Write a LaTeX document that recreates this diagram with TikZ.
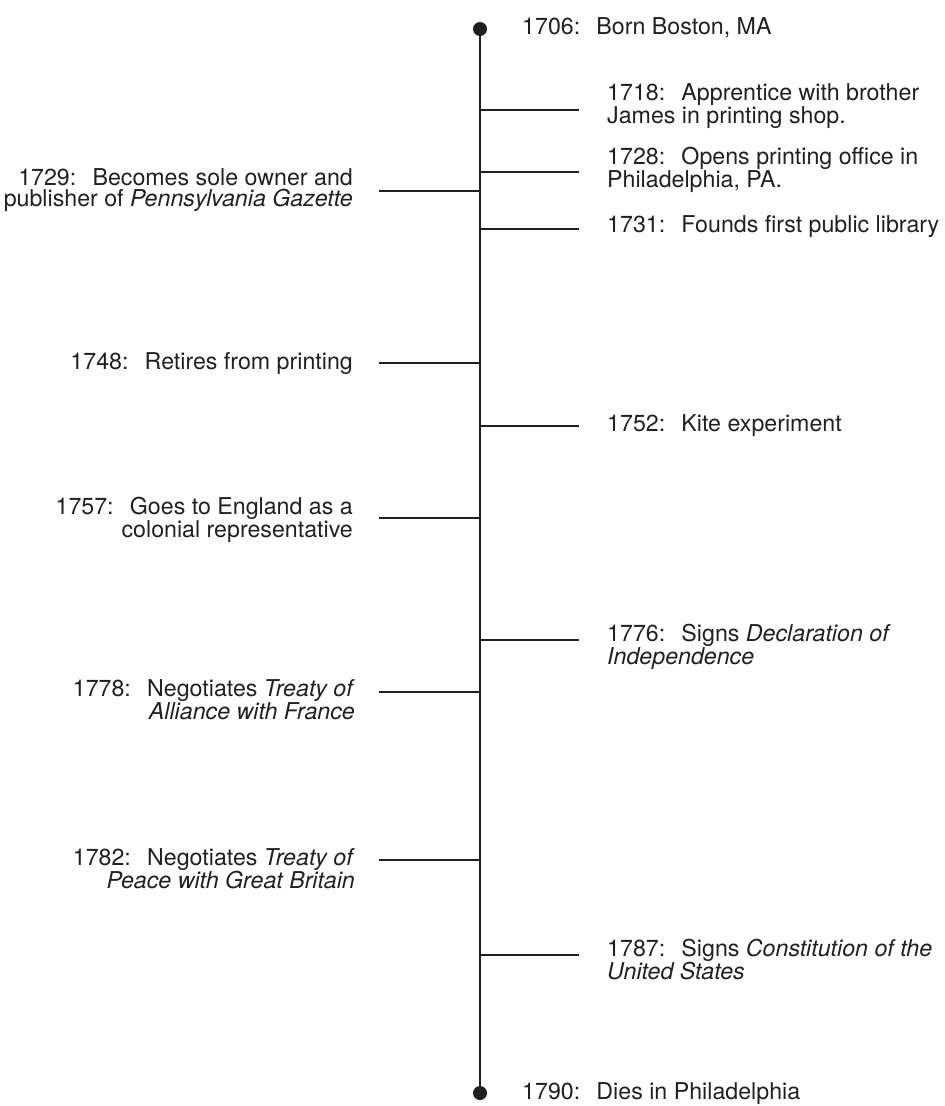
\documentclass[tikz,border=0pt]{standalone}
\usepackage{fontspec}
\setmainfont{TeX Gyre Heros}
\definecolor{ink}{HTML}{231F20}
\newcommand{\evgap}{\hspace{0.7em}}
\begin{document}
\begin{tikzpicture}[x=1pt,y=-1pt,
  evt/.style={font=\fontsize{23.2}{21.7}\selectfont, inner sep=0pt, text=ink},
  rt/.style={evt, anchor=base west, align=left},
  lt/.style={evt, anchor=base east, align=right},
  enddot/.style={circle, fill=ink, inner sep=0pt, minimum size=14pt},
  axis/.style={draw=ink, line width=2.8pt},
  tickline/.style={draw=ink, line width=2.8pt}]
\useasboundingbox (0,0) rectangle (945,1106);
% axis end points
\coordinate (top) at (480,29);
\coordinate (bot) at (480,1093);
\draw[axis] (top) -- (bot);
\node[enddot] (topdot) at (top) {};
\node[enddot] (botdot) at (bot) {};
% right ticks
\foreach \n/\y in {a1718/110, a1728/172, a1731/229, a1752/426, a1776/640, a1787/955}{
  \coordinate (\n) at (480,\y);
  \coordinate (\n e) at (579,\y);
  \draw[tickline] (\n) -- (\n e);
}
% left ticks
\foreach \n/\y in {a1729/191, a1748/363, a1757/518, a1778/692, a1782/860}{
  \coordinate (\n) at (480,\y);
  \coordinate (\n e) at (379,\y);
  \draw[tickline] (\n) -- (\n e);
}
% right texts (y = baseline of last line)
\node[rt] (t1706) at (522,34) {1706:\evgap Born Boston, MA};
\node[rt] (t1718) at (607,123.7) {1718:\evgap Apprentice with brother\\James in printing shop.};
\node[rt] (t1728) at (607,187.7) {1728:\evgap Opens printing office in\\Philadelphia, PA.};
\node[rt] (t1731) at (607,232) {1731:\evgap Founds first public library};
\node[rt] (t1752) at (607,431) {1752:\evgap Kite experiment};
\node[rt] (t1776) at (607,664.7) {1776:\evgap Signs \textit{Declaration of}\\\textit{Independence}};
\node[rt] (t1787) at (607,979.7) {1787:\evgap Signs \textit{Constitution of the}\\\textit{United States}};
\node[rt] (t1790) at (522,1099) {1790:\evgap Dies in Philadelphia};
% left texts
\node[lt] (t1729) at (353,206.7) {1729:\evgap Becomes sole owner and\\publisher of \textit{Pennsylvania Gazette}};
\node[lt] (t1748) at (353,369) {1748:\evgap Retires from printing};
\node[lt] (t1757) at (353,537.7) {1757:\evgap Goes to England as a\\colonial representative};
\node[lt] (t1778) at (355,719.7) {1778:\evgap Negotiates \textit{Treaty of}\\\textit{Alliance with France}};
\node[lt] (t1782) at (355,888.7) {1782:\evgap Negotiates \textit{Treaty of}\\\textit{Peace with Great Britain}};
\end{tikzpicture}
\end{document}
